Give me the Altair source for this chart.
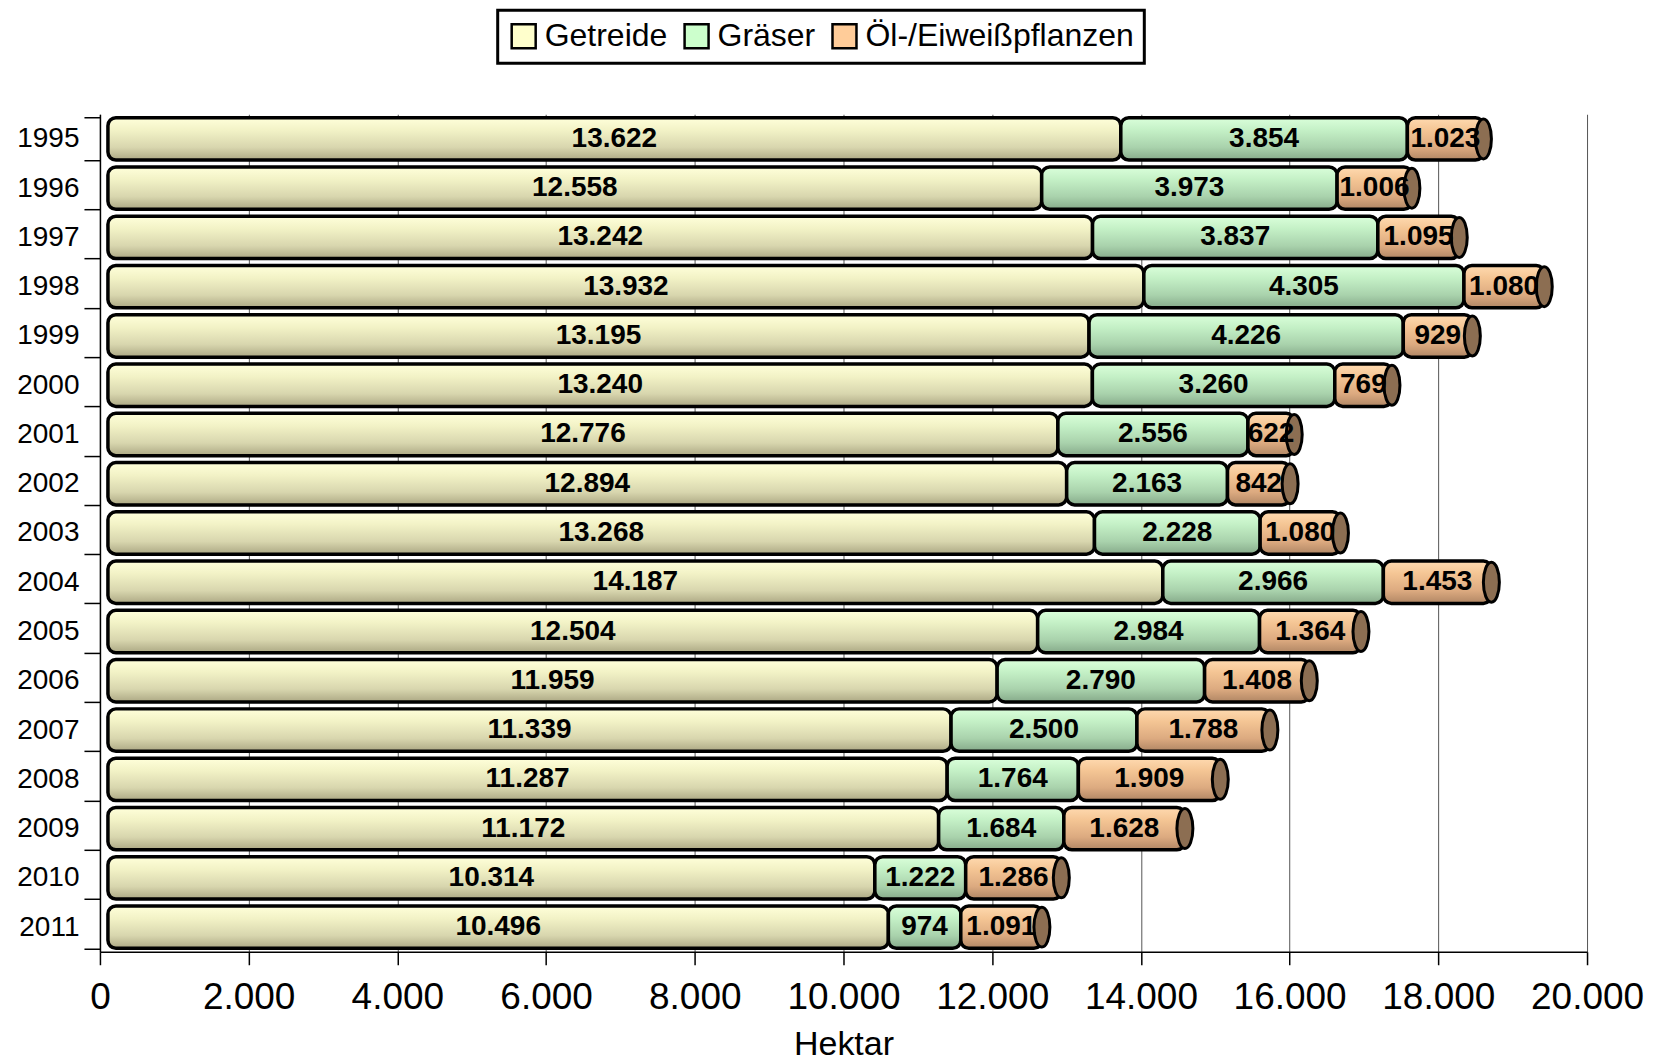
import altair as alt
import pandas as pd

years = ["1995", "1996", "1997", "1998", "1999", "2000", "2001", "2002", "2003",
         "2004", "2005", "2006", "2007", "2008", "2009", "2010", "2011"]
getreide = [13622, 12558, 13242, 13932, 13195, 13240, 12776, 12894, 13268,
            14187, 12504, 11959, 11339, 11287, 11172, 10314, 10496]
graeser = [3854, 3973, 3837, 4305, 4226, 3260, 2556, 2163, 2228,
           2966, 2984, 2790, 2500, 1764, 1684, 1222, 974]
oel = [1023, 1006, 1095, 1080, 929, 769, 622, 842, 1080,
       1453, 1364, 1408, 1788, 1909, 1628, 1286, 1091]
series = ["Getreide", "Gräser", "Öl-/Eiweißpflanzen"]
colors = ["#FFFFCC", "#CCFFCC", "#FFCC99"]

rows = []
for i, y in enumerate(years):
    start = 0
    for s, vals in zip(series, [getreide, graeser, oel]):
        v = vals[i]
        rows.append({"Jahr": y, "Kultur": s, "Wert": v, "start": start,
                     "end": start + v, "order": series.index(s)})
        start += v
df = pd.DataFrame(rows)

grads = {
    "Getreide": ["#FFFFDA", "#F2F2C6", "#D8D6AE", "#ACA884"],
    "Gräser": ["#DAFFDA", "#C4F0C6", "#A9D2AC", "#86AA8A"],
    "Öl-/Eiweißpflanzen": ["#FFDAB0", "#F4C594", "#DCAA80", "#B08664"],
}

OFF = 8

yenc = alt.Y("Jahr:O", title=None,
             scale=alt.Scale(paddingInner=0.14, paddingOuter=0.07),
             axis=alt.Axis(tickBand="extent", tickSize=16, labelPadding=5,
                           labelFontSize=28, labelColor="black",
                           domainColor="black", domainWidth=1.5,
                           tickColor="black", tickWidth=1.5, grid=False))
xenc = alt.X("start:Q", title="Hektar",
             scale=alt.Scale(domain=[0, 20000], nice=False),
             axis=alt.Axis(values=list(range(0, 20001, 2000)),
                           labelExpr="replace(format(datum.value, ','), ',', '.')",
                           labelOverlap=False, labelFlush=False,
                           tickSize=13, labelPadding=15, labelFontSize=37,
                           labelColor="black", titleFontSize=34,
                           titleFontWeight="normal", titleColor="black",
                           titlePadding=12, grid=True, gridColor="#555555",
                           gridWidth=1, domainColor="black", domainWidth=1.5,
                           tickColor="black", tickWidth=1.5))

base = alt.Chart(df)

flat = base.mark_bar(cornerRadius=8, xOffset=OFF, x2Offset=OFF).encode(
    y=yenc, x=xenc, x2="end:Q",
    color=alt.Color("Kultur:N", title=None,
                    scale=alt.Scale(domain=series, range=colors),
                    legend=alt.Legend(orient="none", legendX=398, legendY=-104,
                                      direction="horizontal", labelLimit=500)),
)

layers = [flat]
for s in series:
    st = grads[s]
    g = alt.Gradient(gradient="linear", x1=0, y1=0, x2=0, y2=1,
                     stops=[alt.GradientStop(color=st[0], offset=0),
                            alt.GradientStop(color=st[1], offset=0.3),
                            alt.GradientStop(color=st[2], offset=0.7),
                            alt.GradientStop(color=st[3], offset=1)])
    layers.append(
        base.transform_filter(alt.datum.Kultur == s)
        .mark_bar(fill=g, stroke="black", strokeWidth=3.5, cornerRadius=8,
                  xOffset=OFF, x2Offset=OFF)
        .encode(y="Jahr:O", x="start:Q", x2="end:Q")
    )

cap_shape = "M0,-1 A0.4,1 0 1,1 0,1 A0.4,1 0 1,1 0,-1 Z"
caps = base.transform_filter(alt.datum.Kultur == series[-1]).mark_point(
    shape=cap_shape, size=1600, filled=True, fill="#8C6E52", stroke="black",
    strokeWidth=3, opacity=1, xOffset=OFF,
).encode(y="Jahr:O", x="end:Q")
layers.append(caps)

labels = base.transform_calculate(
    mid="(datum.start + datum.end) / 2",
    label="replace(format(datum.Wert, ','), ',', '.')",
).mark_text(fontSize=28, fontWeight="bold", color="black",
            font="Liberation Sans", baseline="middle", align="center",
            xOffset=OFF).encode(
    y="Jahr:O", x="mid:Q", text="label:N")
layers.append(labels)

chart = alt.layer(*layers).properties(
    width=1488, height=838,
    padding={"left": 8, "top": 0, "right": 5, "bottom": 5},
).configure(font="Liberation Sans", background="white").configure_view(
    stroke=None
).configure_legend(
    symbolType="square", symbolSize=576, symbolStrokeColor="black",
    symbolStrokeWidth=2.5, labelFontSize=32, labelColor="black",
    labelOffset=5, columnPadding=12, padding=10, strokeColor="black",
    strokeWidth=3, labelFont="Liberation Sans", symbolOpacity=1,
)

chart.save("out.html", embed_options={"renderer": "svg", "actions": False})
